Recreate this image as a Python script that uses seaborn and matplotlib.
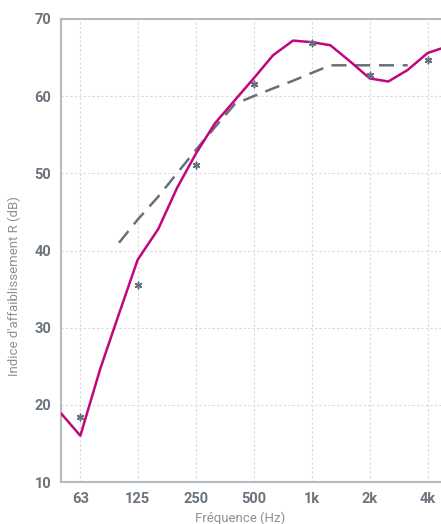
import numpy as np
import pandas as pd
import matplotlib
matplotlib.use("Agg")
import matplotlib.pyplot as plt
import seaborn as sns

# third-octave bands (Hz)
freqs = [50, 63, 80, 100, 125, 160, 200, 250, 315, 400, 500, 630, 800,
         1000, 1250, 1600, 2000, 2500, 3150, 4000, 5000]
# measured sound reduction index R (dB)
r_meas = [18.9, 16.0, 24.7, 31.8, 38.8, 42.8, 48.1, 52.5, 56.5, 59.5, 62.3,
          65.3, 67.2, 67.0, 66.6, 64.4, 62.3, 61.9, 63.4, 65.6, 66.4]
# shifted reference curve (100 - 3150 Hz)
ref_freqs = [100, 125, 160, 200, 250, 315, 400, 500, 630, 800, 1000, 1250,
             1600, 2000, 2500, 3150]
ref_vals = [41, 44, 47, 50, 53, 56, 59, 60, 61, 62, 63, 64, 64, 64, 64, 64]
# octave values
oct_freqs = [63, 125, 250, 500, 1000, 2000, 4000]
oct_vals = [18.4, 35.5, 51.1, 61.6, 66.9, 62.7, 64.7]
oct_labels = ["63", "125", "250", "500", "1k", "2k", "4k"]

MAGENTA = "#c0077f"
GREY = "#67707a"
TXT = "#6b737c"

sns.set_style("white")
plt.rcParams["font.family"] = ["Roboto", "DejaVu Sans"]

fig = plt.figure(figsize=(4.41, 5.24), dpi=100)
ax = fig.add_axes([61 / 441, 42 / 524, 380 / 441, 463 / 524])

meas = pd.DataFrame({"f": freqs, "R": r_meas})
ref = pd.DataFrame({"f": ref_freqs, "R": ref_vals})
octv = pd.DataFrame({"f": oct_freqs, "R": oct_vals})

sns.lineplot(data=ref, x="f", y="R", ax=ax, color=GREY, lw=1.8,
             dashes=False, zorder=3).lines[-1].set_dashes([6, 3.5])
sns.lineplot(data=meas, x="f", y="R", ax=ax, color=MAGENTA, lw=1.8, zorder=4)
sns.scatterplot(data=octv, x="f", y="R", ax=ax, color=GREY, marker=(6, 2, 0),
                s=22, linewidth=1.1, zorder=5)

ax.set_xscale("log")
ax.set_xlim(50, 4690)
ax.set_ylim(10, 70)
ax.set_xticks(oct_freqs)
ax.set_xticklabels(oct_labels)
ax.xaxis.set_minor_locator(matplotlib.ticker.NullLocator())
ax.set_yticks(range(10, 71, 10))

ax.grid(True, color="#d9d9d9", ls=(0, (2, 2)), lw=0.8)
for s in ["top", "left", "bottom"]:
    ax.spines[s].set_color("#b5babf")
    ax.spines[s].set_linewidth(1.5)
ax.spines["right"].set_visible(False)

ax.tick_params(axis="both", colors="#b5babf", length=4, width=1,
               labelcolor=TXT, labelsize=10.5, pad=3)
for lab in ax.get_xticklabels() + ax.get_yticklabels():
    lab.set_fontweight("bold")

ax.set_xlabel("")
ax.set_ylabel("")
fig.text(240 / 441, 1 - 518 / 524, "Fréquence (Hz)", ha="center", va="center",
         color="#8a9198", fontsize=9.5)
fig.text(14 / 441, 1 - 286 / 524, "Indice d'affaiblissement R (dB)",
         ha="center", va="center", rotation=90, color="#8a9198", fontsize=9.5)

fig.savefig("out.png", dpi=100)
